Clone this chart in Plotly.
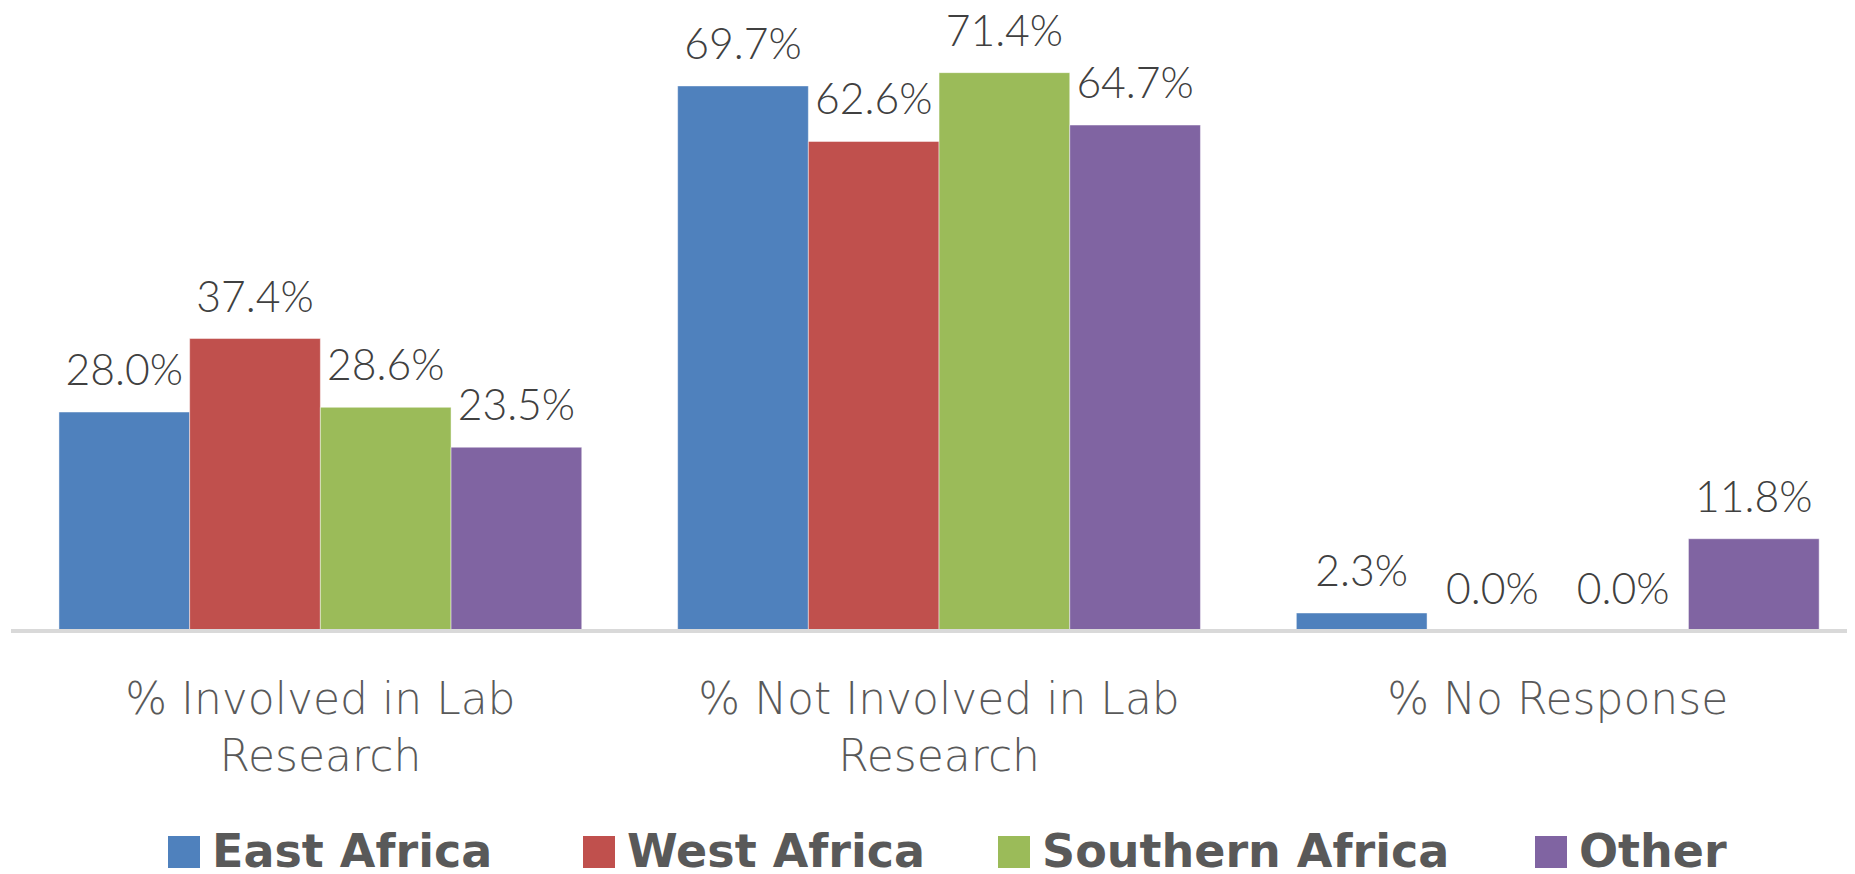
import plotly.graph_objects as go

categories = ["% Involved in Lab<br>Research", "% Not Involved in Lab<br>Research", "% No Response"]
series_names = ["East Africa", "West Africa", "Southern Africa", "Other"]
east_africa = [28.0, 69.7, 2.3]
west_africa = [37.4, 62.6, 0.0]
southern_africa = [28.6, 71.4, 0.0]
other = [23.5, 64.7, 11.8]
colors = ["#4F81BD", "#C0504D", "#9BBB59", "#8064A2"]

series_values = [east_africa, west_africa, southern_africa, other]
xpos = list(range(len(categories)))

# page body has an 8px margin; figure is sized to fill the rest of the window
BODY = 8
W, H = 1855 - BODY, 874 - BODY
ML, MR, MT, MB = 3, 0, 0, 235
px_per_unit = 7.82
zero_offset_px = 8
plot_h = H - MT - MB
plot_w = W - ML - MR
ymin = -zero_offset_px / px_per_unit
ymax = plot_h / px_per_unit + ymin
cat_px = 618.7
xmax = -0.5 + plot_w / cat_px
GAP = 0.155

LABEL_FONT = dict(family="Lato", size=42.67, color="#404040", weight=300)
TICK_FONT = dict(family="DejaVu Sans", size=44, color="#595959", weight=200)
LEG_FONT = dict(family="DejaVu Sans", size=46, color="#595959", weight="bold")

fig = go.Figure()
for name, vals, col in zip(series_names, series_values, colors):
    fig.add_trace(go.Bar(
        x=xpos, y=vals, name=name,
        marker=dict(color=col, line=dict(width=1, color="rgba(255,255,255,0.45)")),
        showlegend=False, hoverinfo="skip",
    ))
for name, vals in zip(series_names, series_values):
    fig.add_trace(go.Scatter(
        x=xpos, y=vals, mode="markers+text", text=[f"{v:.1f}%" for v in vals],
        textposition="top center", textfont=LABEL_FONT,
        marker=dict(size=24.5, opacity=0, color="white"),
        showlegend=False, hoverinfo="skip", cliponaxis=False,
    ))

fig.update_layout(
    width=W, height=H, autosize=False,
    margin=dict(l=ML, r=MR, t=MT, b=MB, pad=0),
    paper_bgcolor="white", plot_bgcolor="white",
    barmode="group", bargap=GAP, bargroupgap=0,
    scattermode="group", scattergap=GAP,
    showlegend=False,
    xaxis=dict(range=[-0.5, xmax], tickmode="array", tickvals=xpos, ticktext=categories,
               tickfont=TICK_FONT, ticks="outside", ticklen=21, tickcolor="rgba(0,0,0,0)",
               showgrid=False, zeroline=False, showline=False, fixedrange=True),
    yaxis=dict(range=[ymin, ymax], visible=False, showgrid=False, zeroline=False, fixedrange=True),
)

# baseline (category axis line)
fig.add_shape(type="line", xref="paper", yref="y", x0=0, x1=1, y0=0, y1=0,
              line=dict(color="#D9D9D9", width=4), layer="above")

# custom legend with large square swatches (positions in window pixels)
def px_x(p):
    return (p - BODY - ML) / plot_w
def px_y(p):
    return (H - MB - (p - BODY)) / plot_h

sq_left = [168, 583, 998, 1535]
sq_size = 32
sq_center_y = 852
for name, col, sl in zip(series_names, colors, sq_left):
    fig.add_shape(type="rect", xref="paper", yref="paper",
                  x0=px_x(sl), x1=px_x(sl + sq_size),
                  y0=px_y(sq_center_y + sq_size / 2), y1=px_y(sq_center_y - sq_size / 2),
                  fillcolor=col, line=dict(width=0))
    fig.add_annotation(xref="paper", yref="paper", x=px_x(sl + sq_size + 10), y=px_y(sq_center_y - 1),
                       text=name, showarrow=False, xanchor="left", yanchor="middle",
                       font=LEG_FONT)

fig.write_html("out.html")
